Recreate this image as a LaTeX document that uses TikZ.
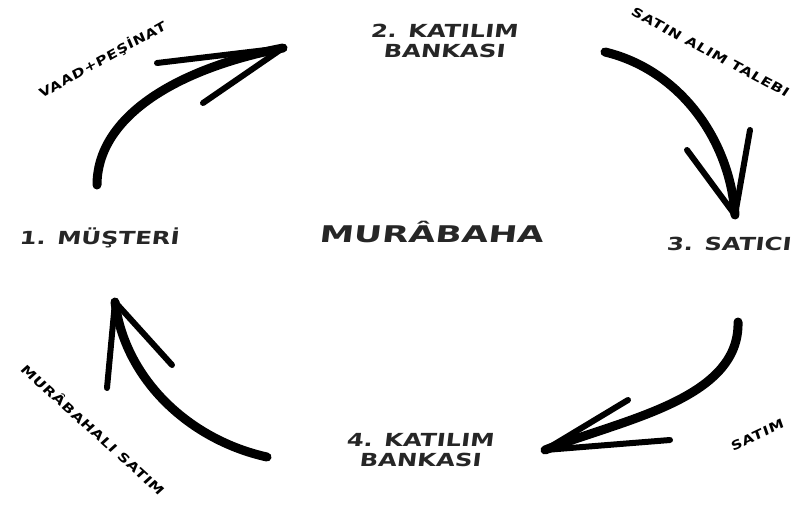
\documentclass[tikz,border=0pt]{standalone}
\usepackage{fontspec}
\newfontfamily\handfont{DejaVu Sans}[FakeStretch=1.35,FakeSlant=0.12]
\newfontfamily\titlefont{DejaVu Sans}[FakeStretch=1.5,FakeSlant=0.12]
\newfontfamily\labelfont{DejaVu Sans}[FakeStretch=1.25,FakeSlant=0.1,LetterSpace=6]
\usetikzlibrary{positioning}

\tikzset{
  party/.style={font=\handfont\bfseries\fontsize{18}{20}\selectfont, align=center, inner sep=0pt, text=black!85},
  title/.style={font=\titlefont\bfseries\fontsize{23}{25}\selectfont, inner sep=0pt, text=black!85},
  flowlabel/.style={font=\labelfont\bfseries\fontsize{12.5}{14}\selectfont, inner sep=0pt},
  shaft/.style={line width=9pt, line cap=round},
  barb/.style={line width=6pt, line cap=round}
}

\begin{document}
\begin{tikzpicture}[x=1pt, y=-1pt]
    \useasboundingbox (0,0) rectangle (794,511);

    % parties
    \node[party] (customer) at (99,238) {1. MÜŞTERİ};
    \node[party] (bankA) at (444,41) {2. KATILIM\\BANKASI};
    \node[party, anchor=east] (seller) at (791,244) {3. SATICI};
    \node[party] (bankB) at (420,450) {4. KATILIM\\BANKASI};
    \node[title] (murabaha) at (431,232) {MURÂBAHA};

    % flow labels
    \node[flowlabel, rotate=29] (promise) at (102,60) {VAAD+PEŞİNAT};
    \node[flowlabel, rotate=-28] (request) at (710,52) {SATIN ALIM TALEBI};
    \node[flowlabel, rotate=25] (sale) at (757,435) {SATIM};
    \node[flowlabel, rotate=-42] (resale) at (93,429) {MURÂBAHALI SATIM};

    % arrow ends
    \coordinate (s1) at (97,185);  \coordinate (t1) at (283,48);
    \coordinate (s2) at (605,52);  \coordinate (t2) at (735,215);
    \coordinate (s3) at (738,322); \coordinate (t3) at (545,450);
    \coordinate (s4) at (267,457); \coordinate (t4) at (115,302);

    % arrows
    \draw[shaft] (s1) .. controls (97,120) and (170,70) .. (t1);
    \draw[barb] (t1) -- (157,63);
    \draw[barb] (t1) -- (203,103);

    \draw[shaft] (s2) .. controls (680,70) and (730,140) .. (t2);
    \draw[barb] (t2) -- (687,150);
    \draw[barb] (t2) -- (750,130);

    \draw[shaft] (s3) .. controls (740,400) and (620,420) .. (t3);
    \draw[barb] (t3) -- (628,400);
    \draw[barb] (t3) -- (670,440);

    \draw[shaft] (s4) .. controls (190,440) and (125,380) .. (t4);
    \draw[barb] (t4) -- (107,388);
    \draw[barb] (t4) -- (172,365);
\end{tikzpicture}
\end{document}
